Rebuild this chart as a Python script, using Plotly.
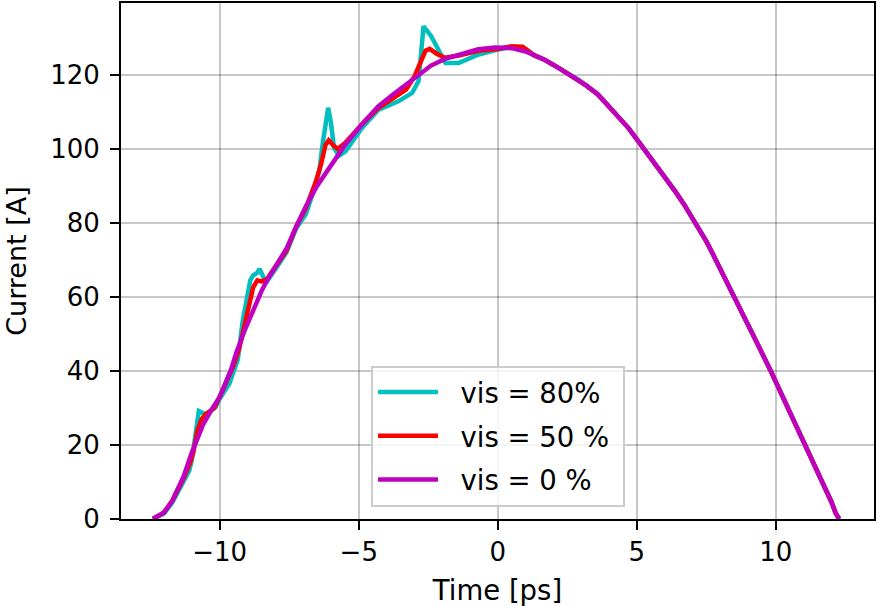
import plotly.graph_objects as go

# Shared falling edge (all three visibilities overlap here)
t_tail = [1.3, 1.7, 2.2, 2.5, 2.9, 3.2, 3.6, 3.95, 4.3, 4.7, 5.05, 5.4, 5.76, 6.1, 6.4, 6.7,
          6.96, 7.25, 7.5, 7.7, 7.91, 8.15, 8.51, 8.69, 8.99, 9.4, 9.83, 10.3, 10.78, 11.02,
          11.5, 11.7, 11.86, 12.0, 12.15, 12.28]
i_tail = [125.3, 124.0, 121.8, 120.4, 118.7, 117.0, 114.7, 111.9, 109.0, 105.6, 102.1, 98.6, 94.9, 91.4, 88.3, 85.0,
          81.8, 78.3, 75.0, 72.1, 69.0, 65.3, 59.9, 57.2, 52.8, 46.4, 39.8, 32.2, 24.3, 20.3,
          12.6, 9.6, 7.0, 4.6, 1.6, 0.0]

# vis = 0 % (magenta) rising edge
t_vis0 = [-12.40, -12.2, -12.0, -11.7, -11.3, -11.0, -10.6, -10.3, -10.0, -9.6, -9.4, -9.1, -8.8, -8.5,
          -8.3, -7.95, -7.6, -7.25, -6.9, -6.5, -6.0, -5.5, -4.9, -4.3, -3.8, -3.4, -3.0, -2.4,
          -1.9, -1.2, -0.7, -0.1, 0.5, 1.0]
i_vis0 = [0.0, 0.8, 1.8, 5.0, 11.5, 18.0, 25.5, 29.5, 33.0, 40.2, 45.0, 51.0, 56.5, 61.5,
          64.5, 69.0, 73.0, 79.0, 84.5, 90.0, 95.5, 101.0, 106.5, 111.5, 114.5, 116.8, 119.2, 122.5,
          124.3, 126.0, 126.9, 127.4, 127.2, 126.3]

# vis = 50 % (red) rising edge
t_vis50 = [-12.40, -12.2, -12.0, -11.7, -11.3, -11.05, -10.95, -10.8, -10.65, -10.5, -10.2, -10.0, -9.7,
           -9.5, -9.3, -9.1, -8.95, -8.8, -8.65, -8.5, -8.3, -7.95, -7.6, -7.25, -6.9, -6.55, -6.35,
           -6.2, -6.08, -5.9, -5.75, -5.5, -4.9, -4.3, -3.6, -3.3, -3.0, -2.8, -2.6, -2.45,
           -2.2, -1.9, -1.4, -0.7, 0.0, 0.5, 0.9]
i_vis50 = [0.0, 0.8, 1.8, 5.0, 11.0, 15.5, 18.0, 24.0, 27.0, 28.3, 30.0, 33.0, 38.0,
           41.5, 46.0, 53.0, 58.5, 62.5, 64.5, 64.2, 64.8, 68.5, 72.5, 79.0, 84.0, 91.0, 96.0,
           101.0, 102.3, 100.8, 100.0, 101.5, 106.5, 111.0, 114.5, 116.0, 119.5, 123.0, 126.5, 127.0,
           125.7, 124.6, 125.2, 126.5, 127.0, 127.7, 127.5]

# vis = 80 % (cyan) rising edge
t_vis80 = [-12.40, -12.2, -12.0, -11.7, -11.3, -11.1, -11.0, -10.9, -10.8, -10.75, -10.6, -10.45, -10.15,
           -10.0, -9.65, -9.5, -9.35, -9.17, -9.05, -8.9, -8.8, -8.65, -8.57, -8.45, -8.33, -8.0,
           -7.6, -7.25, -6.9, -6.66, -6.42, -6.3, -6.15, -6.10, -6.0, -5.89, -5.71, -5.47, -4.9,
           -4.3, -3.56, -3.08, -2.85, -2.75, -2.67, -2.4, -2.12, -1.88, -1.41, -0.69, 0.0, 0.5,
           0.9]
i_vis80 = [0.0, 0.7, 1.5, 4.5, 10.5, 13.0, 16.0, 22.0, 28.0, 29.2, 28.6, 28.5, 30.2,
           32.5, 36.6, 40.0, 43.0, 53.7, 59.0, 64.5, 65.8, 66.5, 67.6, 65.3, 63.8, 67.5,
           72.0, 78.5, 82.4, 87.8, 94.0, 101.2, 109.0, 111.1, 107.0, 100.3, 98.1, 99.4, 105.5,
           110.5, 112.9, 115.1, 118.3, 127.0, 133.1, 130.5, 126.4, 123.2, 123.2, 125.5, 126.8, 127.5,
           127.6]

labels = ["vis = 80%", "vis = 50 %", "vis = 0 %"]
x_ticks = [-10, -5, 0, 5, 10]
x_tick_text = ["\u221210", "\u22125", "0", "5", "10"]
y_ticks = [0, 20, 40, 60, 80, 100, 120]

series = [
    (labels[0], t_vis80 + t_tail, i_vis80 + i_tail, "#00BFBF"),
    (labels[1], t_vis50 + t_tail, i_vis50 + i_tail, "#FF0000"),
    (labels[2], t_vis0 + t_tail, i_vis0 + i_tail, "#BF00BF"),
]

NB = "\u00a0"
fig = go.Figure()
for k, (name, t, i, c) in enumerate(series):
    fig.add_trace(go.Scatter(x=t, y=i, mode="lines", name=NB * 2 + name + NB, legendgroup=f"g{k}",
                             line=dict(color=c, width=4.5)))

FONT = "DejaVu Sans"
axis_common = dict(
    showline=True, linecolor="black", linewidth=2, mirror=True,
    ticks="outside", ticklen=9, tickwidth=2, tickcolor="black",
    showgrid=True, gridcolor="rgba(0,0,0,0.22)", gridwidth=2,
    zeroline=False, tickfont=dict(family=FONT, size=26, color="black"),
)

fig.update_layout(
    width=877, height=606,
    margin=dict(l=121, r=1, t=2, b=87),
    plot_bgcolor="white", paper_bgcolor="white",
    font=dict(family=FONT, color="black"),
    xaxis=dict(range=[-13.55, 13.53], tickvals=x_ticks, ticktext=x_tick_text,
               title=dict(text="Time [ps]", font=dict(family=FONT, size=27.5), standoff=18),
               **axis_common),
    yaxis=dict(range=[0, 139.4], tickvals=y_ticks, ticklabelstandoff=5,
               title=dict(text="Current [A]", font=dict(family=FONT, size=27), standoff=16),
               **axis_common),
    legend=dict(x=0.332, y=0.297, xanchor="left", yanchor="top", itemwidth=60,
                bgcolor="rgba(255,255,255,0.8)", bordercolor="#cccccc", borderwidth=2,
                font=dict(family=FONT, size=27.5), tracegroupgap=5),
    showlegend=True,
)

fig.write_html("out.html")
